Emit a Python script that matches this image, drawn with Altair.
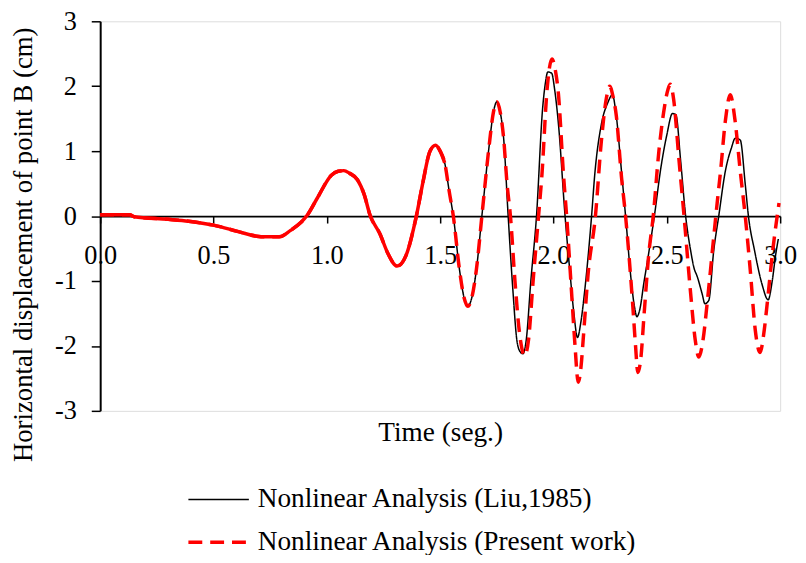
import altair as alt
import pandas as pd

# shared early part (both curves overlap up to ~1.78 s)
early_t = [0.00, 0.13, 0.15, 0.30, 0.39, 0.50, 0.61, 0.69, 0.73, 0.79, 0.84, 0.885, 0.915,
           0.96, 1.02, 1.05, 1.075, 1.10, 1.135, 1.165, 1.19, 1.235, 1.27, 1.31, 1.35, 1.395,
           1.425, 1.455, 1.48, 1.50, 1.52, 1.54, 1.558, 1.585, 1.605, 1.622, 1.64, 1.66, 1.684,
           1.715, 1.735, 1.75, 1.765, 1.78]
early_v = [0.02, 0.02, -0.01, -0.05, -0.08, -0.14, -0.24, -0.31, -0.32, -0.32, -0.22, -0.10, 0.02,
           0.29, 0.63, 0.69, 0.70, 0.66, 0.56, 0.33, 0.02, -0.28, -0.58, -0.77, -0.60, 0.0,
           0.54, 1.0, 1.09, 1.00, 0.82, 0.38, 0.0, -0.82, -1.25, -1.39, -1.25, -0.82, 0.0,
           1.05, 1.60, 1.76, 1.60, 1.20]

# Nonlinear Analysis (Liu,1985) after 1.78 s
liu_t = [1.80, 1.82, 1.84, 1.855, 1.865, 1.88, 1.90, 1.925, 1.952, 1.963, 1.975, 1.992, 2.005,
         2.022, 2.051, 2.073, 2.09, 2.106, 2.12, 2.138, 2.168, 2.182, 2.211, 2.24, 2.26, 2.275,
         2.30, 2.318, 2.34, 2.357, 2.368, 2.38, 2.40, 2.415, 2.445, 2.474, 2.50, 2.525,
         2.54, 2.561, 2.583, 2.605, 2.62, 2.634, 2.656, 2.668, 2.685, 2.707, 2.729, 2.758, 2.785,
         2.802, 2.824, 2.846, 2.86, 2.887, 2.92, 2.947, 2.965, 2.98, 2.992]
liu_v = [0.0, -1.1, -1.95, -2.1, -2.12, -1.9, -1.0, 0.0, 1.66, 2.02, 2.22, 2.2, 1.95,
         1.41, 0.0, -0.88, -1.5, -1.87, -1.65, -1.14, 0.0, 0.64, 1.41, 1.75, 1.87, 1.6,
         0.69, 0.0, -0.9, -1.39, -1.55, -1.45, -1.0, -0.68, 0.0, 0.75, 1.25, 1.58,
         1.56, 0.85, 0.0, -0.53, -0.8, -0.93, -1.2, -1.35, -1.3, -0.53, 0.0, 0.69, 1.05,
         1.20, 1.17, 0.49, 0.0, -0.53, -1.05, -1.29, -1.0, -0.6, -0.35]

# Nonlinear Analysis (Present work) after 1.78 s
pres_t = [1.795, 1.81, 1.83, 1.85, 1.873, 1.89, 1.91, 1.934, 1.949, 1.971, 1.993, 2.008, 2.022,
          2.044, 2.058, 2.08, 2.095, 2.109, 2.122, 2.131, 2.153, 2.185, 2.211, 2.233, 2.248,
          2.262, 2.277, 2.30, 2.318, 2.35, 2.362, 2.372, 2.385, 2.40, 2.42, 2.44, 2.465, 2.486,
          2.505, 2.515, 2.53, 2.554, 2.576, 2.605, 2.625, 2.641, 2.66, 2.678, 2.707, 2.722,
          2.737, 2.758, 2.78, 2.80, 2.824, 2.846, 2.868, 2.89, 2.911, 2.93, 2.94, 2.969, 2.995]
pres_v = [0.5, 0.0, -1.0, -1.8, -2.15, -1.9, -1.0, 0.0, 0.64, 1.92, 2.42, 2.25, 1.87,
          0.64, 0.0, -1.19, -2.0, -2.56, -2.3, -1.9, -0.88, 0.0, 1.15, 1.81, 2.0,
          1.85, 1.55, 0.6, 0.0, -1.39, -2.0, -2.41, -2.2, -1.5, -0.6, 0.0, 1.0, 1.6,
          1.95, 2.03, 1.8, 0.85, 0.0, -1.19, -1.9, -2.17, -1.9, -1.34, -0.32, 0.2,
          0.69, 1.46, 1.87, 1.5, 0.69, 0.0, -0.83, -1.75, -2.10, -1.75, -1.44, -0.48, 0.2]

series_names = ["Nonlinear Analysis (Liu,1985)", "Nonlinear Analysis (Present work)"]

rows = []
for t, v in zip(early_t + liu_t, early_v + liu_v):
    rows.append({"t": t, "v": v, "series": series_names[0]})
for t, v in zip(early_t + pres_t, early_v + pres_v):
    rows.append({"t": t, "v": v, "series": series_names[1]})
df = pd.DataFrame(rows)

FONT = "Liberation Serif"
W, H = 686, 393

x_enc = alt.X(
    "t:Q",
    scale=alt.Scale(domain=[0, 3], nice=False, zero=False),
    axis=alt.Axis(
        values=[0, 0.5, 1.0, 1.5, 2.0, 2.5, 3.0], format=".1f", offset=-H / 2,
        tickSize=7, tickWidth=1.5, tickColor="black", domainColor="black", domainWidth=1.8,
        labelPadding=20, labelFlush=False, labelOverlap=False, grid=False,
        labelFont=FONT, labelFontSize=26.5, labelColor="black",
        title="Time (seg.)", titleFont=FONT, titleFontSize=27.5, titleFontWeight="normal",
        titleColor="black", titleX=W / 2, titleY=226, titleBaseline="alphabetic",
    ),
)
y_enc = alt.Y(
    "v:Q",
    scale=alt.Scale(domain=[-3, 3], nice=False),
    axis=alt.Axis(
        values=[-3, -2, -1, 0, 1, 2, 3], labelExpr="'' + datum.value", tickSize=9, tickWidth=1.5,
        tickColor="black", domainColor="black", domainWidth=2, labelPadding=15,
        grid=False, labelFont=FONT, labelFontSize=26.5, labelColor="black",
        title="Horizontal displacement of point B (cm)", titleFont=FONT, titleFontSize=27,
        titleFontWeight="normal", titleColor="black", titleX=-77, titleY=225,
        titleAngle=270, titleAlign="center", titleBaseline="middle",
    ),
)

leg = alt.Legend(orient="none", legendX=87, legendY=467, title=None, direction="vertical",
                 symbolType="stroke", symbolSize=3721, clipHeight=31, labelFont=FONT,
                 labelFontSize=27.5, labelColor="black", labelLimit=700, labelOffset=7,
                 rowPadding=12, padding=0)

lines = alt.Chart(df).mark_line(interpolate="monotone").encode(
    x=x_enc,
    y=y_enc,
    color=alt.Color("series:N", scale=alt.Scale(domain=series_names, range=["black", "#ff0000"]), legend=leg),
    strokeDash=alt.StrokeDash("series:N", scale=alt.Scale(domain=series_names, range=[[1, 0], [14, 8]]), legend=leg),
    strokeWidth=alt.StrokeWidth("series:N", scale=alt.Scale(domain=series_names, range=[1.5, 3.5]), legend=leg),
)

solid_early = alt.Chart(df).transform_filter(
    (alt.datum.series == series_names[1]) & (alt.datum.t <= 1.52)
).mark_line(interpolate="monotone", color="#ff0000", strokeWidth=3.5).encode(
    x=alt.X("t:Q"), y=alt.Y("v:Q")
)

chart = alt.layer(lines, solid_early).properties(
    width=W, height=H, autosize=alt.AutoSizeParams(type="none"),
    padding={"left": 93, "top": 11, "right": 18, "bottom": 143},
).configure_view(stroke="black", strokeWidth=2).configure(background="white")

chart.save("out.html", embed_options={"renderer": "svg", "actions": False})
